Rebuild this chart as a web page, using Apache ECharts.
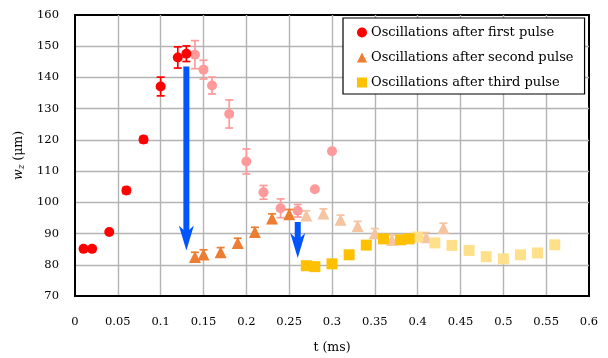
<!DOCTYPE html>
<html>
<head>
<meta charset="utf-8">
<script src="https://cdn.jsdelivr.net/npm/echarts@6/dist/echarts.min.js"></script>
<style>html,body{margin:0;padding:0;background:#fff}#c{width:608px;height:358px}</style>
</head>
<body>
<div id="c"></div>
<script>
// ---- Data ----
const t1 = [0.01, 0.02, 0.04, 0.06, 0.08, 0.10, 0.12, 0.13];
const w1 = [85.1, 85.1, 90.5, 103.8, 120.1, 137.1, 146.4, 147.6];
const e1 = [0, 0, 0, 1.0, 1.0, 3.0, 3.4, 2.5];

const t1f = [0.14, 0.15, 0.16, 0.18, 0.20, 0.22, 0.24, 0.26, 0.28, 0.30];
const w1f = [147.3, 142.5, 137.4, 128.3, 113.1, 103.2, 98.1, 97.3, 104.2, 116.4];
const e1f = [4.5, 3.0, 2.7, 4.5, 4.0, 2.2, 3.0, 2.0, 0, 0];

const t2 = [0.14, 0.15, 0.17, 0.19, 0.21, 0.23, 0.25];
const w2 = [82.5, 83.3, 84.0, 87.0, 90.5, 94.8, 96.2];
const e2 = [1.5, 1.5, 1.5, 1.5, 1.5, 1.5, 1.5];

const t2f = [0.27, 0.29, 0.31, 0.33, 0.35, 0.37, 0.41, 0.43];
const w2f = [95.8, 96.4, 94.4, 92.4, 90.1, 88.0, 88.8, 91.8];
const e2f = [1.5, 1.5, 1.5, 1.5, 1.5, 1.5, 1.5, 1.5];

const t3 = [0.27, 0.28, 0.30, 0.32, 0.34, 0.36, 0.38, 0.39];
const w3 = [79.7, 79.4, 80.3, 83.2, 86.3, 88.3, 88.0, 88.3];

const t3f = [0.40, 0.42, 0.44, 0.46, 0.48, 0.50, 0.52, 0.54, 0.56];
const w3f = [88.9, 87.0, 86.2, 84.6, 82.6, 81.9, 83.2, 83.8, 86.4];

// arrows: [t, start w, tip w]
const arrowT = [0.13, 0.26];
const arrowFrom = [143.5, 93.7];
const arrowTo = [84.6, 82.2];

const xTicks = {min: 0, max: 0.6, interval: 0.05};
const yTicks = {min: 70, max: 160, interval: 10};

const names = ['Oscillations after first pulse', 'Oscillations after second pulse', 'Oscillations after third pulse'];

// ---- Style ----
const FONT = 'DejaVu Serif';
const C_RED = '#ff0000', C_PINK = '#ff9a9a';
const C_OR = '#ed7d31', C_ORL = '#f5c4a0';
const C_YE = '#ffc000', C_YEL = '#ffe08a';
const C_ARROW = '#0055ff';

function zip(t, w) { return t.map((x, i) => [x, w[i]]); }
function zipErr(t, w, e) { return t.map((x, i) => [x, w[i], e[i]]).filter(d => d[2] > 0); }

function errRender(params, api) {
  const x = api.value(0), y = api.value(1), e = api.value(2);
  const top = api.coord([x, y + e]), bot = api.coord([x, y - e]);
  const hw = 4;
  const style = {stroke: api.visual('color'), lineWidth: 1.7, fill: null};
  return {type: 'group', children: [
    {type: 'line', shape: {x1: top[0], y1: top[1], x2: bot[0], y2: bot[1]}, style: style},
    {type: 'line', shape: {x1: top[0] - hw, y1: top[1], x2: top[0] + hw, y2: top[1]}, style: style},
    {type: 'line', shape: {x1: bot[0] - hw, y1: bot[1], x2: bot[0] + hw, y2: bot[1]}, style: style}
  ]};
}

function arrowRender(params, api) {
  const x = api.value(0), y1 = api.value(1), y2 = api.value(2);
  const p1 = api.coord([x, y1]), p2 = api.coord([x, y2]);
  const hw = 7.5, hh = 25, notch = 7;
  return {type: 'group', children: [
    {type: 'rect', shape: {x: p1[0] - 3, y: p1[1], width: 6, height: (p2[1] - hh + notch + 1) - p1[1]}, style: {fill: C_ARROW}},
    {type: 'polygon', shape: {points: [[p2[0], p2[1]], [p2[0] - hw, p2[1] - hh], [p2[0], p2[1] - hh + notch], [p2[0] + hw, p2[1] - hh]]}, style: {fill: C_ARROW}}
  ]};
}

function errSeries(t, w, e, color, z) {
  return {type: 'custom', renderItem: errRender, data: zipErr(t, w, e), itemStyle: {color: color}, z: z, silent: true, encode: {x: 0, y: 1}};
}
function scat(name, t, w, symbol, size, color, z) {
  return {name: name, type: 'scatter', data: zip(t, w), symbol: symbol, symbolSize: size, itemStyle: {color: color, opacity: 1}, z: z, silent: true};
}

const chart = echarts.init(document.getElementById('c'), null, {renderer: 'canvas'});
chart.setOption({
  animation: false,
  backgroundColor: '#fff',
  grid: {left: 75, right: 19, top: 15, bottom: 62, containLabel: false, outerBoundsMode: 'none',
         show: true, borderColor: '#000', borderWidth: 2, backgroundColor: 'transparent'},
  xAxis: {
    type: 'value', min: xTicks.min, max: xTicks.max, interval: xTicks.interval,
    axisLine: {show: true, lineStyle: {color: '#000', width: 2}},
    axisTick: {show: false},
    axisLabel: {color: '#000', fontFamily: FONT, fontSize: 11.5, margin: 20},
    splitLine: {show: true, showMinLine: false, showMaxLine: false, lineStyle: {color: '#b4b4b4', width: 1.4}},
    name: 't (ms)', nameLocation: 'middle', nameGap: 45,
    nameTextStyle: {color: '#000', fontFamily: FONT, fontSize: 12.5}
  },
  yAxis: {
    type: 'value', min: yTicks.min, max: yTicks.max, interval: yTicks.interval,
    axisLine: {show: true, lineStyle: {color: '#000', width: 2}},
    axisTick: {show: false},
    axisLabel: {color: '#000', fontFamily: FONT, fontSize: 11.5, margin: 16},
    splitLine: {show: true, showMinLine: false, showMaxLine: false, lineStyle: {color: '#b4b4b4', width: 1.4}},
    name: '{i|w}{s|z} (μm)', nameLocation: 'middle', nameGap: 36, nameRotate: 90,
    nameTextStyle: {color: '#000', fontFamily: FONT, fontSize: 12.5,
      rich: {
        i: {fontFamily: FONT, fontStyle: 'italic', fontSize: 12.5, color: '#000'},
        s: {fontFamily: FONT, fontStyle: 'italic', fontSize: 9, color: '#000', padding: [6, 0, 0, 0]}
      }}
  },
  legend: {
    data: names, orient: 'vertical', left: 343, top: 18,
    padding: [8, 11, 5, 14], itemGap: 12, itemWidth: 10, itemHeight: 10,
    backgroundColor: '#fff', borderColor: '#000', borderWidth: 1.2, borderRadius: 0,
    textStyle: {color: '#000', fontFamily: FONT, fontSize: 13, padding: [0, 0, 0, -1]},
    selectedMode: false
  },
  series: [
    errSeries(t1f, w1f, e1f, C_PINK, 2),
    scat('first faded', t1f, w1f, 'circle', 10, C_PINK, 2),
    errSeries(t2f, w2f, e2f, C_ORL, 2),
    scat('second faded', t2f, w2f, 'triangle', 12, C_ORL, 2),
    scat('third faded', t3f, w3f, 'rect', 11, C_YEL, 2),
    errSeries(t1, w1, e1, C_RED, 3),
    scat(names[0], t1, w1, 'circle', 10, C_RED, 3),
    errSeries(t2, w2, e2, C_OR, 3),
    scat(names[1], t2, w2, 'triangle', 12, C_OR, 3),
    scat(names[2], t3, w3, 'rect', 11, C_YE, 3),
    {type: 'custom', renderItem: arrowRender, z: 4, silent: true,
     data: arrowT.map((x, i) => [x, arrowFrom[i], arrowTo[i]]), encode: {x: 0, y: [1, 2]}}
  ]
});
</script>
</body>
</html>
